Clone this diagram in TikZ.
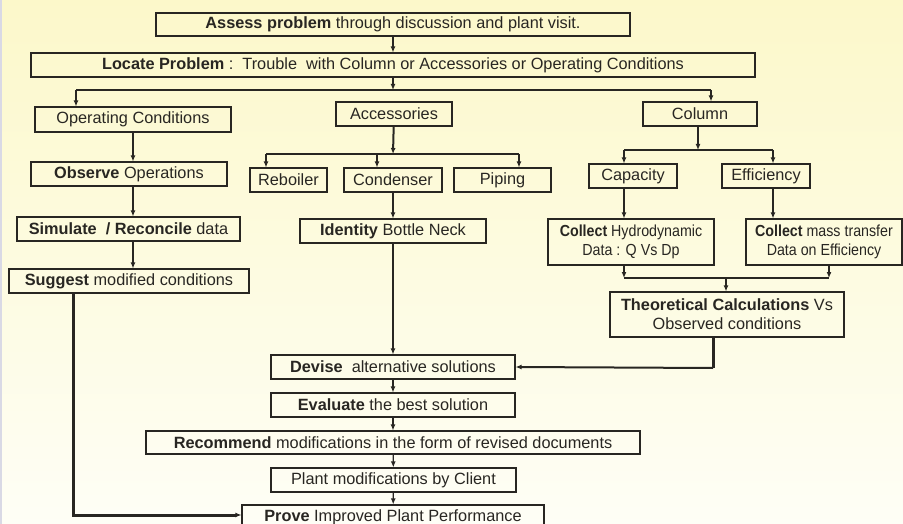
\documentclass[tikz,border=0pt]{standalone}
\usepackage{fontspec}
\setmainfont{Liberation Sans}
\usetikzlibrary{arrows.meta}

\definecolor{bgtop}{RGB}{252,248,202}
\definecolor{bgbot}{RGB}{254,254,246}
\definecolor{ink}{RGB}{40,38,34}

\tikzset{
  box/.style={draw=ink, line width=1.1pt, inner sep=0pt, minimum height=24pt,
    text=ink, align=center, font=\fontsize{16.3}{19}\selectfont},
  smallbox/.style={box, font=\fontsize{16}{19}\selectfont\addfontfeatures{FakeStretch=0.89}},
  arr/.style={-{Latex[length=6pt,width=5pt]}, line width=1.2pt, draw=ink},
  link/.style={line width=1.2pt, draw=ink},
  heavy/.style={line width=2pt},
  heavier/.style={line width=3pt}
}

\begin{document}
\begin{tikzpicture}[x=1pt,y=-1pt]
  % background
  \shade[top color=bgtop, bottom color=bgbot] (0,0) rectangle (903,524);
  \fill[blue!20!gray!25] (0,0) rectangle (2,524);
  \useasboundingbox (0,0) rectangle (903,524);

  % top
  \node[box, minimum width=474pt, minimum height=23pt] (assess) at (393,24.5)
    {\textbf{Assess problem} through discussion and plant visit.};
  \node[box, minimum width=724pt] (locate) at (393,65)
    {\textbf{Locate Problem} :\ \ Trouble\ \ with Column or Accessories or Operating Conditions};

  % operating conditions branch
  \node[box, minimum width=196pt, minimum height=25pt] (opcond) at (133,119.5) {Operating Conditions};
  \node[box, minimum width=196pt] (observe) at (129,174) {\textbf{Observe} Operations};
  \node[box, minimum width=223pt] (simulate) at (128.5,229) {\textbf{Simulate\ \ / Reconcile} data};
  \node[box, minimum width=240pt] (suggest) at (129,281) {\textbf{Suggest} modified conditions};

  % accessories branch
  \node[box, minimum width=116pt] (access) at (394,114) {Accessories};
  \node[box, minimum width=77pt] (reboiler) at (288.5,180) {Reboiler};
  \node[box, minimum width=98pt] (condenser) at (393,180) {Condenser};
  \node[box, minimum width=97pt] (piping) at (502.5,180) {Piping};
  \node[box, minimum width=186pt] (identity) at (393,231) {\textbf{Identity} Bottle Neck};

  % column branch
  \node[box, minimum width=114pt] (column) at (700,114) {Column};
  \node[box, minimum width=88pt] (capacity) at (633,176) {Capacity};
  \node[box, minimum width=88pt] (efficiency) at (766,176) {Efficiency};
  \node[smallbox, minimum width=166pt, minimum height=46pt] (collecta) at (631,242)
    {\textbf{Collect} Hydrodynamic\\Data : Q Vs Dp};
  \node[smallbox, minimum width=156pt, minimum height=46pt] (collectb) at (824,242)
    {\textbf{Collect} mass transfer\\Data on Efficiency};
  \node[box, minimum width=234pt, minimum height=45pt] (theo) at (727,314.5)
    {\textbf{Theoretical Calculations} Vs\\Observed conditions};

  % common trunk
  \node[box, minimum width=244pt] (devise) at (393,367) {\textbf{Devise}\ \ alternative solutions};
  \node[box, minimum width=244pt] (evaluate) at (393,405) {\textbf{Evaluate} the best solution};
  \node[box, minimum width=494pt, minimum height=23pt] (recommend) at (393,442.5)
    {\textbf{Recommend} modifications in the form of revised documents};
  \node[box, minimum width=245pt] (plant) at (393.5,480) {Plant modifications by Client};
  \node[box, minimum width=302pt] (prove) at (393,517) {\textbf{Prove} Improved Plant Performance};

  % junction points
  \coordinate (jl) at (393,90);
  \coordinate (bl) at (76,90);
  \coordinate (br) at (711,90);
  \coordinate (ja) at (393,154);
  \coordinate (ra) at (266,154);
  \coordinate (ca) at (377,154);
  \coordinate (pa) at (519,154);
  \coordinate (jc) at (698,150);
  \coordinate (cl) at (624,150);
  \coordinate (cr) at (773,150);
  \coordinate (ml) at (624,278);
  \coordinate (mr) at (829,278);
  \coordinate (mm) at (726,278);
  \coordinate (tc) at (713,368);
  \coordinate (sl) at (73,515);

  \draw[arr] (assess) -- (locate);
  \draw[arr] (locate) -- (jl);
  \draw[link] (bl) -- (br);
  \draw[arr] (bl) -- (bl |- opcond.north);
  \draw[arr] (br) -- (br |- column.north);

  \draw[arr, heavy] (opcond) -- (opcond |- observe.north);
  \draw[arr, heavy] (observe.south -| opcond) -- (opcond |- simulate.north);
  \draw[arr, heavy] (simulate.south -| opcond) -- (opcond |- suggest.north);
  \draw[arr, heavier] (suggest.south -| sl) -- (sl) -- (prove.west |- sl);

  \draw[arr, heavy] (access) -- (ja);
  \draw[link] (ra) -- (pa);
  \draw[arr] (ra) -- (ra |- reboiler.north);
  \draw[arr] (ca) -- (ca |- condenser.north);
  \draw[arr] (pa) -- (pa |- piping.north);
  \draw[arr, line width=1.6pt] (condenser) -- (identity);
  \draw[arr, line width=1.6pt] (identity) -- (devise);

  \draw[arr, heavy] (column.south -| jc) -- (jc);
  \draw[link] (cl) -- (cr);
  \draw[arr] (cl) -- (cl |- capacity.north);
  \draw[arr] (cr) -- (cr |- efficiency.north);
  \draw[arr, heavy] (capacity.south -| cl) -- (cl |- collecta.north);
  \draw[arr, heavy] (efficiency.south -| cr) -- (cr |- collectb.north);
  \draw[arr, heavy] (collecta.south -| ml) -- (ml);
  \draw[arr, heavy] (collectb.south -| mr) -- (mr);
  \draw[link] (ml) -- (mr);
  \draw[arr, heavy] (mm) -- (mm |- theo.north);
  \draw[link, heavier] (theo.south -| tc) -- (tc);
  \draw[arr, heavy] (tc) -- (devise.east);

  \draw[arr] (devise) -- (evaluate);
  \draw[arr] (evaluate) -- (recommend);
  \draw[arr] (recommend) -- (plant);
  \draw[arr] (plant) -- (prove);
\end{tikzpicture}
\end{document}
